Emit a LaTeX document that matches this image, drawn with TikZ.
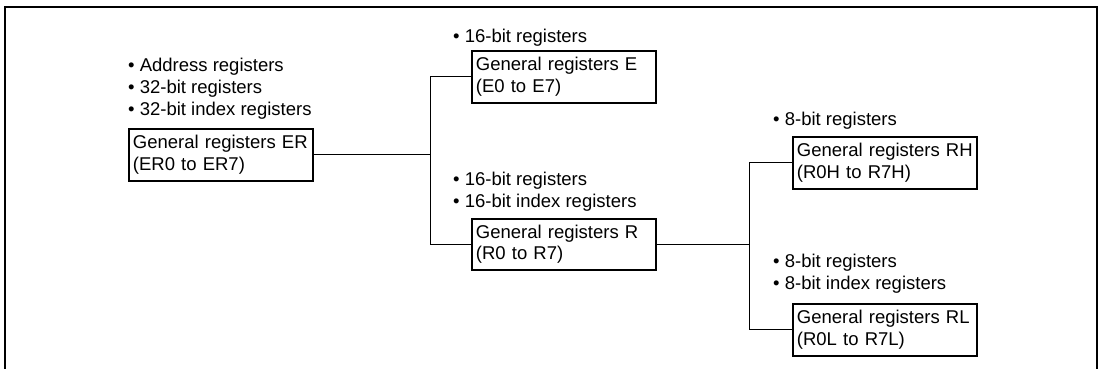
\documentclass[tikz,border=0pt]{standalone}
\usepackage{fontspec}
\setmainfont{Liberation Sans}
\begin{document}
\begin{tikzpicture}[x=1pt,y=-1pt,
  regbox/.style={draw,line width=1.8pt,anchor=north west,inner xsep=4pt,inner ysep=0pt,
    text width=176pt,minimum height=52pt,align=left,font=\fontsize{18.5}{21.5}\selectfont},
  item/.style={anchor=base west,inner sep=0pt,font=\fontsize{18.5}{22}\selectfont},
  conn/.style={line width=0.9pt}]
\useasboundingbox (0,0) rectangle (1102,369);
\draw[line width=2.2pt] (5,370) -- (5,7) -- (1097,7) -- (1097,370);
% ER
\node[item] (er1) at (128,71) {\textbullet\ Address registers};
\node[item] (er2) at (128,93) {\textbullet\ 32-bit registers};
\node[item] (er3) at (128,115) {\textbullet\ 32-bit index registers};
\node[regbox] (ER) at (128,128) {General registers ER\\(ER0 to ER7)};
% E
\node[item] (e1) at (453,42) {\textbullet\ 16-bit registers};
\node[regbox] (E) at (471,50) {General registers E\\(E0 to E7)};
% R
\node[item] (r1) at (453,185) {\textbullet\ 16-bit registers};
\node[item] (r2) at (453,207) {\textbullet\ 16-bit index registers};
\node[regbox,minimum height=51pt] (R) at (471,218) {General registers R\\(R0 to R7)};
% RH
\node[item] (rh1) at (773,125) {\textbullet\ 8-bit registers};
\node[regbox] (RH) at (792,136) {General registers RH\\(R0H to R7H)};
% RL
\node[item] (rl1) at (773,267) {\textbullet\ 8-bit registers};
\node[item] (rl2) at (773,289) {\textbullet\ 8-bit index registers};
\node[regbox] (RL) at (792,303) {General registers RL\\(R0L to R7L)};
% connectors
\coordinate (j1) at (430,0);
\coordinate (j2) at (749,0);
\draw[conn] (ER.east) -- (ER.east -| j1);
\draw[conn] (E.west) -| (j1 |- R.west) -- (R.west);
\draw[conn] (R.east) -- (R.east -| j2);
\draw[conn] (RH.west) -| (j2 |- RL.west) -- (RL.west);
\end{tikzpicture}
\end{document}
